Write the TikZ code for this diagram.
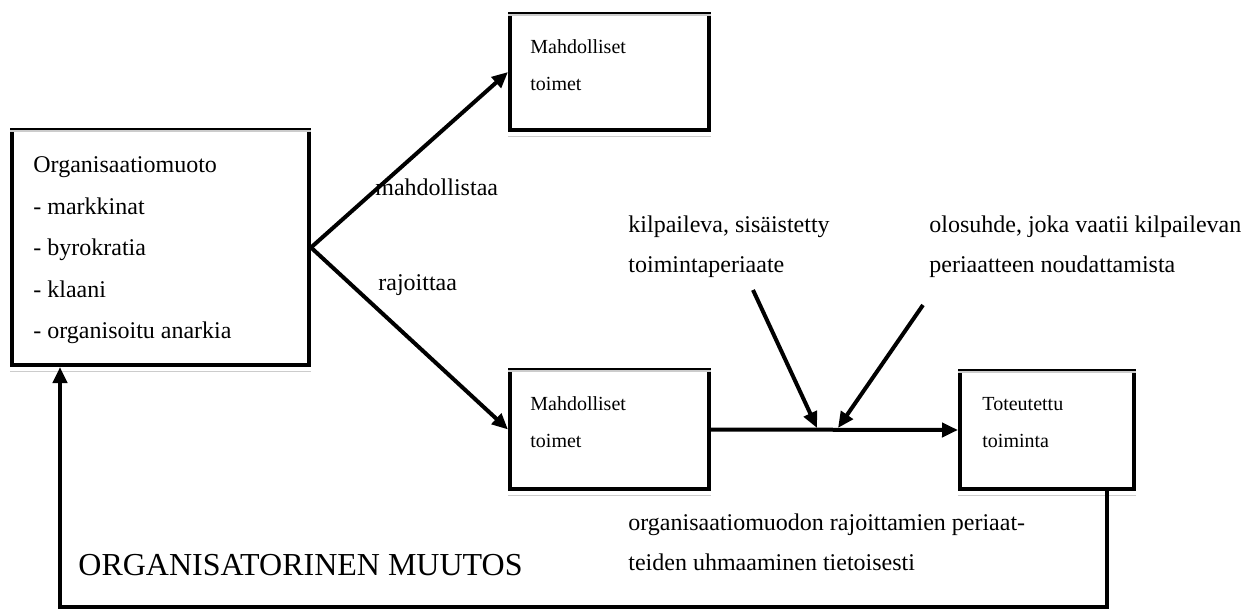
\documentclass[tikz,border=0pt]{standalone}
\usepackage{fontspec}
\setmainfont{Liberation Serif}
\usetikzlibrary{arrows.meta}
\tikzset{
  box/.style={draw, line width=2pt, inner sep=0pt, anchor=north west},
  shadeline/.style={draw=gray!40, line width=0.8pt},
  arr/.style={line width=2pt, -{Triangle[length=8pt,width=7pt]}},
  boxtext/.style={inner sep=0pt, anchor=north west, align=left,
    font=\fontsize{10}{18.5}\selectfont},
  orgtext/.style={inner sep=0pt, anchor=north west, align=left,
    font=\fontsize{12}{20.75}\selectfont},
  lbl/.style={inner sep=0pt, align=left, font=\fontsize{12}{20}\selectfont}
}

\begin{document}
\begin{tikzpicture}[x=0.5pt, y=-0.5pt]
    \useasboundingbox (0,0) rectangle (1258,610);

    \node[box, minimum width=148.5pt, minimum height=117.5pt] (org) at (10,128) {};
    \node[box, minimum width=99.5pt, minimum height=58pt] (top) at (508,12) {};
    \node[box, minimum width=99.5pt, minimum height=59.5pt] (low) at (508,368) {};
    \node[box, minimum width=87pt, minimum height=59pt] (done) at (958,369) {};

    \foreach \b in {org, top, low, done} {
      \draw[shadeline] ([yshift=-1.6pt]\b.north west) -- ([yshift=-1.6pt]\b.north east);
      \draw[shadeline] ([yshift=-2.2pt]\b.south west) -- ([yshift=-2.2pt]\b.south east);
    }

    \node[orgtext] (orgtxt) at (33,156.5) {Organisaatiomuoto\\- markkinat\\- byrokratia\\- klaani\\- organisoitu anarkia};
    \node[boxtext] (toptxt) at (530,39) {Mahdolliset\\toimet};
    \node[boxtext] (lowtxt) at (530,396) {Mahdolliset\\toimet};
    \node[boxtext] (donetxt) at (982,397) {Toteutettu\\toiminta};

    \node[lbl, anchor=base west] (enable) at (375,195) {mahdollistaa};
    \node[lbl, anchor=base west] (limit) at (378,290) {rajoittaa};
    \node[lbl, anchor=north west] (rule) at (628,215.6) {kilpaileva, sisäistetty\\toimintaperiaate};
    \node[lbl, anchor=north west] (cond) at (929,215.6) {olosuhde, joka vaatii kilpailevan\\periaatteen noudattamista};
    \node[lbl, anchor=north west] (defy) at (628,513.6) {organisaatiomuodon rajoittamien periaat-\\teiden uhmaaminen tietoisesti};
    \node[inner sep=0pt, anchor=base west, font=\fontsize{16}{16}\selectfont] (change) at (78,575) {ORGANISATORINEN MUUTOS};

    \coordinate (ruleS) at (753,290);
    \coordinate (ruleE) at (817,428);
    \coordinate (condS) at (923,305);
    \coordinate (condE) at (838,428);
    \coordinate (fbR) at (1107,607);
    \coordinate (fbL) at (60,607);

    \draw[arr] (org.east) -- (top.west);
    \draw[arr] (org.east) -- (low.west);
    \draw[arr] (low.east) -- (done.west);
    \draw[arr] (ruleS) -- (ruleE);
    \draw[arr] (condS) -- (condE);
    \draw[arr] (fbR |- done.south) -- (fbR) -- (fbL) -- (fbL |- org.south);
\end{tikzpicture}
\end{document}
